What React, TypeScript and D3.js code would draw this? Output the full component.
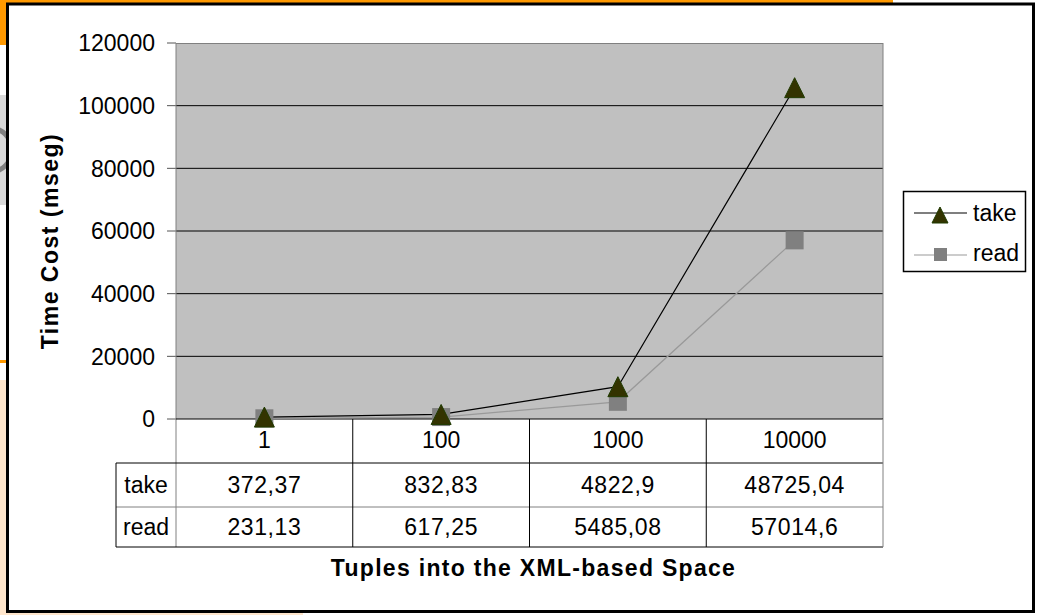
import React from "react";
import * as d3 from "d3";

const categories = ["1", "100", "1000", "10000"];
const seriesNames = ["take", "read"];
const takeValues = [372.37, 832.83, 4822.9, 48725.04];
const readValues = [231.13, 617.25, 5485.08, 57014.6];
const yTicks = [0, 20000, 40000, 60000, 80000, 100000, 120000];
const yTitle = "Time Cost (mseg)";
const xTitle = "Tuples into the XML-based Space";

const W = 1038;
const H = 615;
const FONT = "'Liberation Sans', Arial, sans-serif";

export default function App() {
  const plotL = 176, plotR = 883, plotT = 43, plotB = 419;
  const rowH1 = 463, rowH2 = 507, rowH3 = 547, labelL = 116;

  const x = d3.scaleBand<string>().domain(categories).range([plotL, plotR]).padding(0);
  const y = d3.scaleLinear().domain([0, 120000]).range([plotB, plotT]);
  const cx = (c: string) => (x(c) as number) + x.bandwidth() / 2;

  const rows = categories.map((c, i) => ({ cat: c, take: takeValues[i], read: readValues[i] }));
  const stacked = d3.stack<any>().keys(["read", "take"])(rows);
  const readSeries = stacked[0];
  const takeSeries = stacked[1];

  const line = d3
    .line<any>()
    .x((d: any) => cx(d.data.cat))
    .y((d: any) => y(d[1]));

  const fmt = (v: number) => String(v).replace(".", ",");
  const tri = (px: number, py: number, s: number) =>
    `M${px},${py - s}L${px + s},${py + s}L${px - s},${py + s}Z`;

  const fontBase = { fontFamily: FONT, fontSize: 23, fill: "#000" } as const;

  return (
    <svg
      width={W}
      height={H}
      style={{ position: "absolute", left: 0, top: 0, background: "#fff" }}
    >
      {/* slide background fragments */}
      <rect x={0} y={0} width={893} height={4} fill="#FF9900" />
      <rect x={0} y={0} width={7} height={45} fill="#FF9900" />
      <rect x={0} y={95} width={7} height={110} fill="#d9d9d9" />
      <circle cx={-10} cy={150} r={22} fill="none" stroke="#808080" strokeWidth={5} />
      <rect x={0} y={360} width={7} height={3} fill="#FF9900" />
      <rect x={0} y={380} width={7} height={235} fill="#FFE6CC" />
      <rect x={0} y={612} width={303} height={3} fill="#FFE6CC" />

      {/* chart frame */}
      <rect x={7.5} y={4} width={1026} height={607.5} fill="#fff" stroke="#000" strokeWidth={3} />

      {/* plot area */}
      <rect x={plotL} y={plotT} width={plotR - plotL} height={plotB - plotT} fill="#C0C0C0" />
      {yTicks.map((t) =>
        t === 0 || t === 120000 ? null : (
          <line key={t} x1={plotL} x2={plotR} y1={y(t)} y2={y(t)} stroke="#000" strokeWidth={1} />
        )
      )}
      <line x1={plotL} x2={plotR} y1={plotT + 0.5} y2={plotT + 0.5} stroke="#808080" strokeWidth={1} />
      <line x1={plotR} x2={plotR} y1={plotT} y2={plotB} stroke="#808080" strokeWidth={1} />

      {/* y axis ticks + labels */}
      {yTicks.map((t) => (
        <g key={"yt" + t}>
          <line x1={167} x2={plotL} y1={y(t)} y2={y(t)} stroke="#555" strokeWidth={1} />
          <text x={155} y={y(t)} dy="0.36em" textAnchor="end" {...fontBase}>
            {t}
          </text>
        </g>
      ))}

      {/* data table */}
      <line x1={plotL} x2={plotL} y1={plotT} y2={rowH3} stroke="#808080" strokeWidth={1} />
      <line x1={plotL} x2={plotR} y1={plotB} y2={plotB} stroke="#000" strokeWidth={1.2} />
      <line x1={labelL} x2={plotR} y1={rowH1} y2={rowH1} stroke="#000" strokeWidth={1} />
      <line x1={labelL} x2={plotR} y1={rowH2} y2={rowH2} stroke="#808080" strokeWidth={1} />
      <line x1={labelL} x2={plotR} y1={rowH3} y2={rowH3} stroke="#000" strokeWidth={1} />
      <line x1={labelL} x2={labelL} y1={rowH1} y2={rowH3} stroke="#000" strokeWidth={1} />
      {categories.map((c, i) =>
        i === 0 ? null : (
          <line key={"v" + c} x1={x(c)} x2={x(c)} y1={plotB} y2={rowH3} stroke="#000" strokeWidth={1} />
        )
      )}
      <line x1={plotR} x2={plotR} y1={plotB} y2={rowH3} stroke="#808080" strokeWidth={1} />
      {categories.map((c) => (
        <text key={"c" + c} x={cx(c)} y={448} textAnchor="middle" {...fontBase}>
          {c}
        </text>
      ))}
      <text x={(labelL + plotL) / 2} y={493} textAnchor="middle" {...fontBase}>
        {seriesNames[0]}
      </text>
      <text x={(labelL + plotL) / 2} y={535} textAnchor="middle" {...fontBase}>
        {seriesNames[1]}
      </text>
      {categories.map((c, i) => (
        <g key={"tv" + c}>
          <text x={cx(c)} y={493} textAnchor="middle" letterSpacing={0.6} {...fontBase}>
            {fmt(takeValues[i])}
          </text>
          <text x={cx(c)} y={535} textAnchor="middle" letterSpacing={0.6} {...fontBase}>
            {fmt(readValues[i])}
          </text>
        </g>
      ))}

      {/* lines */}
      <path d={line(readSeries as any) || ""} fill="none" stroke="#999999" strokeWidth={1.2} />
      <path d={line(takeSeries as any) || ""} fill="none" stroke="#000" strokeWidth={1.2} />
      {readSeries.map((d: any, i: number) => (
        <rect
          key={"rs" + i}
          x={cx(d.data.cat) - 9}
          y={y(d[1]) - 9}
          width={18}
          height={18}
          fill="#808080"
        />
      ))}
      {takeSeries.map((d: any, i: number) => (
        <path
          key={"tt" + i}
          d={tri(cx(d.data.cat), y(d[1]), 10)}
          fill="#333300"
          stroke="#1f3a00"
          strokeWidth={1}
        />
      ))}

      {/* legend */}
      <rect x={903.5} y={191.5} width={122} height={80} fill="#fff" stroke="#000" strokeWidth={1.5} />
      <line x1={914} x2={967} y1={213} y2={213} stroke="#000" strokeWidth={1.2} />
      <path d={tri(940, 215, 8)} fill="#333300" stroke="#1f3a00" strokeWidth={1} />
      <text x={973} y={221} {...fontBase}>
        {seriesNames[0]}
      </text>
      <line x1={914} x2={967} y1={255} y2={255} stroke="#999999" strokeWidth={1.2} />
      <rect x={934} y={248} width={13} height={13} fill="#808080" />
      <text x={973} y={261} {...fontBase}>
        {seriesNames[1]}
      </text>

      {/* axis titles */}
      <text
        x={(plotL + plotR) / 2 + 4}
        y={576}
        textAnchor="middle"
        fontWeight="bold"
        letterSpacing={1.3}
        {...fontBase}
      >
        {xTitle}
      </text>
      <text
        transform={`translate(58,241) rotate(-90)`}
        textAnchor="middle"
        fontWeight="bold"
        letterSpacing={1.5}
        {...fontBase}
      >
        {yTitle}
      </text>
    </svg>
  );
}
